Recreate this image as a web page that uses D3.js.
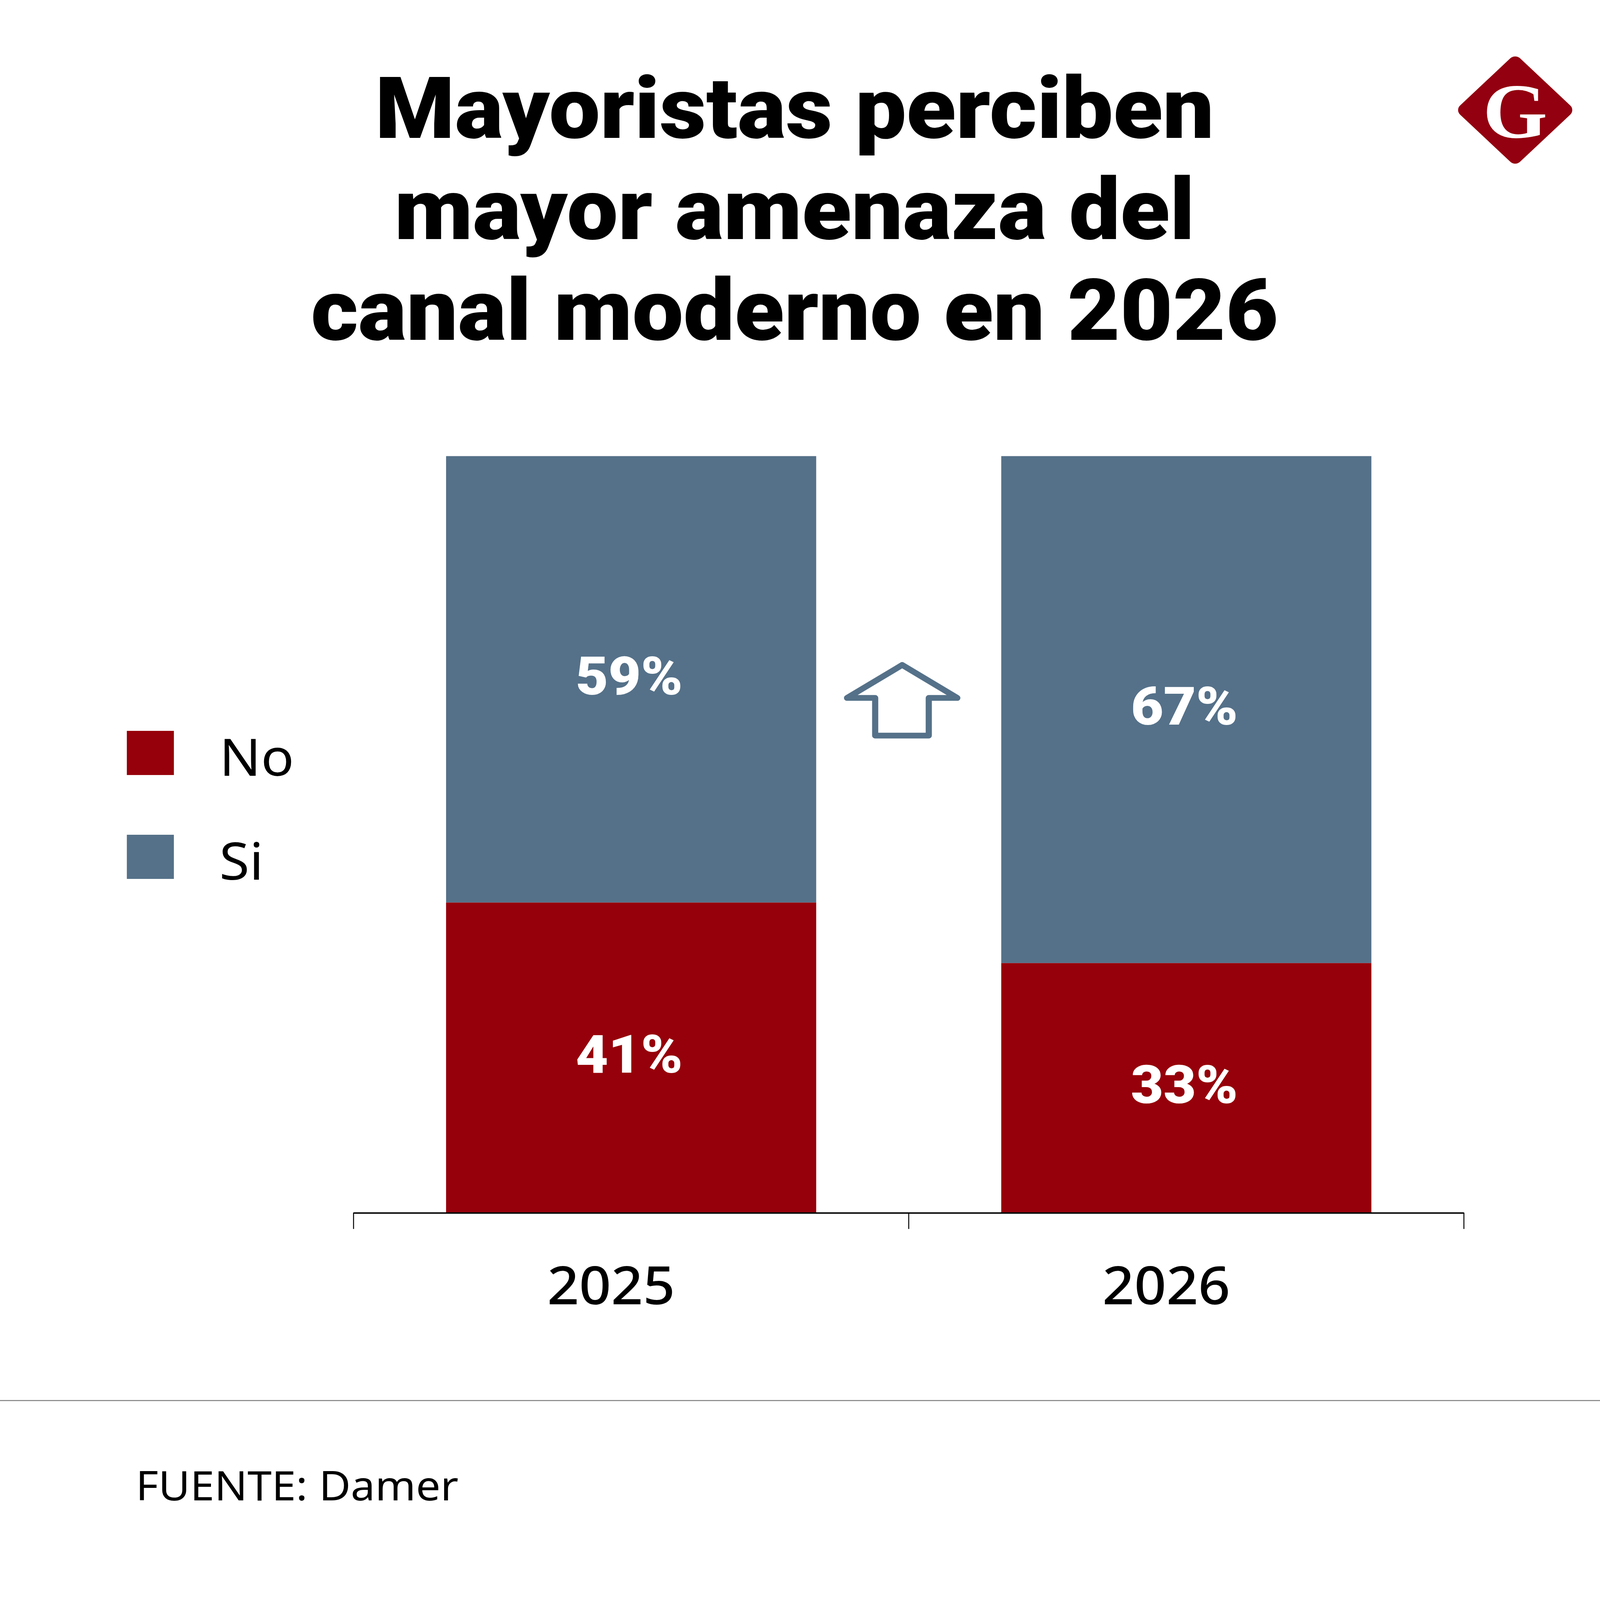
<!DOCTYPE html>
<html>
<head>
<meta charset="utf-8">
<script src="https://cdn.jsdelivr.net/npm/d3@7"></script>
<style>
  html, body { margin: 0; padding: 0; background: #fff; overflow: hidden; }
  svg { display: block; width: 100vw; height: 100vh; }
</style>
</head>
<body>
<svg id="chart"></svg>
<script>
// data
const years = ["2025", "2026"];
const noValues = [41, 33];
const siValues = [59, 67];
const seriesNames = ["No", "Si"];
const titleLines = ["Mayoristas perciben", "mayor amenaza del", "canal moderno en 2026"];
const sourceText = "FUENTE: Damer";

const W = 4150, H = 4420;
const colors = { No: "#96000a", Si: "#557189" };
const heavy = "Roboto, Inter, 'Noto Sans', sans-serif";
const plain = "'Noto Sans', 'Open Sans', sans-serif";

// the window may be smaller than the chart, so draw in chart units and fill it
const svg = d3.select("#chart")
  .attr("viewBox", `0 0 ${W} ${H}`)
  .attr("preserveAspectRatio", "none");
svg.append("rect").attr("width", W).attr("height", H).attr("fill", "#fff");

// title
const title = svg.append("g").selectAll("text")
  .data(titleLines)
  .join("text")
  .attr("x", 2061)
  .attr("y", (d, i) => 381 + i * 279)
  .attr("text-anchor", "middle")
  .attr("font-family", heavy)
  .attr("font-weight", 900)
  .attr("font-size", 216)
  .attr("fill", "#000")
  .text(d => d);

// fit first line to the width seen in the reference (about 2176px)
const w0 = title.nodes()[0].getComputedTextLength();
if (w0 > 0) {
  const fs = Math.max(190, Math.min(245, 216 * 2176 / w0));
  title.attr("font-size", fs);
}

// logo
const logo = svg.append("g").attr("transform", "translate(3930,304)");
logo.append("rect")
  .attr("x", -110).attr("y", -110).attr("width", 220).attr("height", 220)
  .attr("rx", 18)
  .attr("transform", "rotate(45)")
  .attr("fill", "#930010");
logo.append("text")
  .attr("x", 0).attr("y", 76)
  .attr("text-anchor", "middle")
  .attr("font-family", "'Liberation Serif', serif")
  .attr("font-weight", 700)
  .attr("font-size", 215)
  .attr("fill", "#fff")
  .text("G");

// scales
const x = d3.scaleBand()
  .domain(years)
  .range([917, 3797])
  .paddingInner(1 / 3)
  .paddingOuter(1 / 6);

const y = d3.scaleLinear().domain([0, 100]).range([3350, 1260]);

const rows = years.map((yr, i) => ({ year: yr, No: noValues[i], Si: siValues[i] }));
const stacked = d3.stack().keys(seriesNames)(rows);

const layers = svg.append("g").selectAll("g")
  .data(stacked)
  .join("g")
  .attr("fill", d => colors[d.key]);

layers.selectAll("rect")
  .data(d => d)
  .join("rect")
  .attr("x", d => x(d.data.year))
  .attr("width", x.bandwidth())
  .attr("y", d => y(d[1]))
  .attr("height", d => y(d[0]) - y(d[1]));

// value labels
layers.selectAll("text")
  .data(d => d.map(v => ({ v, key: d.key })))
  .join("text")
  .attr("x", d => x(d.v.data.year) + x.bandwidth() / 2 - 5)
  .attr("y", d => (y(d.v[0]) + y(d.v[1])) / 2 + 42)
  .attr("text-anchor", "middle")
  .attr("font-family", heavy)
  .attr("font-weight", 900)
  .attr("font-size", 146)
  .attr("fill", "#fff")
  .text(d => d.v.data[d.key] + "%");

// axis: baseline with ticks at band boundaries
const step = x.step();
const x0 = x.range()[0];
const axis = svg.append("g");
axis.append("line")
  .attr("x1", x0).attr("x2", x.range()[1])
  .attr("y1", y(0) + 1).attr("y2", y(0) + 1)
  .attr("stroke", "#000").attr("stroke-width", 4);
axis.selectAll(".tick")
  .data(d3.range(years.length + 1))
  .join("line")
  .attr("class", "tick")
  .attr("x1", i => x0 + i * step).attr("x2", i => x0 + i * step)
  .attr("y1", y(0)).attr("y2", y(0) + 45)
  .attr("stroke", "#000").attr("stroke-width", 2.5);
axis.selectAll("text")
  .data(years)
  .join("text")
  .attr("x", d => x(d) + x.bandwidth() / 2 - 52)
  .attr("y", 3603)
  .attr("text-anchor", "middle")
  .attr("font-family", plain)
  .attr("font-weight", 500)
  .attr("font-size", 145)
  .attr("fill", "#000")
  .text(d => d);

// arrow
svg.append("path")
  .attr("d", "M2340,1837 L2483,1928 L2409,1928 L2409,2032 L2270,2032 L2270,1928 L2197,1928 Z")
  .attr("fill", "none")
  .attr("stroke", colors.Si)
  .attr("stroke-width", 16)
  .attr("stroke-linejoin", "round");

// legend
const legend = svg.append("g").selectAll("g")
  .data(seriesNames)
  .join("g")
  .attr("transform", (d, i) => `translate(329,${2019 + i * 287})`);
legend.append("rect")
  .attr("width", 122).attr("height", 122)
  .attr("fill", d => colors[d]);
legend.append("text")
  .attr("x", 240).attr("y", 124)
  .attr("font-family", plain)
  .attr("font-size", 142)
  .attr("fill", "#000")
  .text(d => d);

// footer
svg.append("line")
  .attr("x1", 0).attr("x2", W)
  .attr("y1", 3869).attr("y2", 3869)
  .attr("stroke", "#888").attr("stroke-width", 3);
svg.append("text")
  .attr("x", 352).attr("y", 4145)
  .attr("font-family", plain)
  .attr("font-size", 113)
  .attr("fill", "#000")
  .text(sourceText);
</script>
</body>
</html>
